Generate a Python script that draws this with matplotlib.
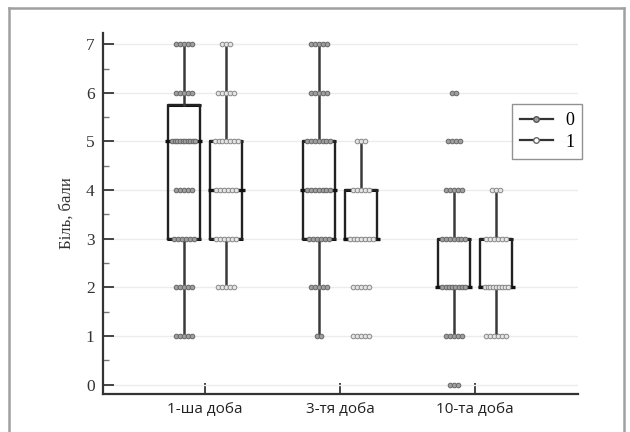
import matplotlib
matplotlib.use("Agg")
import matplotlib.pyplot as plt
from matplotlib.lines import Line2D
import numpy as np

# ---- data ----
categories = ["1-ша доба", "3-тя доба", "10-та доба"]
series = ["0", "1"]
# box stats: (whislo, q1, med, q3, whishi)
stats_s0 = [(1, 3, 5, 5.75, 7), (1, 3, 4, 5, 7), (1, 2, 2, 3, 4)]
stats_s1 = [(2, 3, 4, 5, 7), (3, 3, 3, 4, 5), (1, 2, 2, 3, 4)]
# observed score levels and number of dots at each level
levels = [0, 1, 2, 3, 4, 5, 6, 7]
counts_s0 = [
    [0, 5, 5, 6, 5, 10, 5, 5],
    [0, 2, 5, 6, 7, 7, 5, 5],
    [3, 5, 8, 7, 5, 4, 2, 0],
]
counts_s1 = [
    [0, 0, 5, 6, 6, 7, 5, 3],
    [0, 5, 5, 7, 5, 3, 0, 0],
    [0, 6, 9, 6, 3, 0, 0, 0],
]
yticks = [0, 1, 2, 3, 4, 5, 6, 7]
ylabel = "Біль, бали"

# ---- figure ----
fig = plt.figure(figsize=(6.3, 4.32), dpi=100)
ax = fig.add_axes([103/630, 1-394/432, (578-103)/630, (394-33)/432])

pos = np.arange(1, len(categories) + 1)
off = 0.157
width = 0.237
box_col = "#222222"

def make_stats(s):
    return dict(whislo=s[0], q1=s[1], med=s[2], q3=s[3], whishi=s[4], fliers=[])

for k, (stats, counts, fc, ec) in enumerate([
        (stats_s0, counts_s0, "#a0a0a0", "#666666"),
        (stats_s1, counts_s1, "#e6e6e6", "#888888")]):
    p = pos + (-off if k == 0 else off)
    ax.bxp([make_stats(s) for s in stats], positions=p, widths=width,
           showcaps=False, showfliers=False, patch_artist=False,
           boxprops=dict(color=box_col, linewidth=1.7),
           whiskerprops=dict(color="#3a3a3a", linewidth=1.8),
           medianprops=dict(color="#111111", linewidth=0),
           zorder=3)
    for i, s in enumerate(stats):
        ax.plot([p[i] - width*0.58, p[i] + width*0.58], [s[2], s[2]],
                color="#111111", lw=2.4, zorder=3, solid_capstyle="butt")
        for q in (s[1], s[3]):
            ax.plot([p[i] - width*0.53, p[i] + width*0.53], [q, q],
                    color="#111111", lw=2.2, zorder=2.9, solid_capstyle="butt")
        for lv, n in zip(levels, counts[i]):
            if n == 0:
                continue
            sp = min(0.03, 0.17 / max(n - 1, 1))
            xs = p[i] + (np.arange(n) - (n - 1) / 2) * sp
            ax.scatter(xs, [lv]*n, s=11, facecolor=fc, edgecolor=ec,
                       linewidth=0.7, zorder=4)

ax.set_xlim(0.244, 3.763)
ax.set_ylim(-0.19, 7.23)
ax.set_yticks(yticks)
ax.set_yticklabels([str(t) for t in yticks], family="Liberation Serif",
                   fontsize=12.5, color="#333333")
ax.set_yticks(np.arange(0.5, 7, 1), minor=True)
ax.set_xticks(pos)
ax.set_xticklabels(categories, family="Open Sans", fontsize=11, color="#222222")
ax.tick_params(axis="y", which="major", direction="in", length=8, width=1.4,
               color="#444444", pad=6)
ax.tick_params(axis="y", which="minor", direction="in", length=4, width=1,
               color="#777777")
ax.tick_params(axis="x", which="major", direction="in", length=8, width=1.4,
               color="#444444", pad=6)
ax.grid(axis="y", color="#ececec", lw=1, zorder=0)
ax.set_axisbelow(True)
for sp_ in ("top", "right"):
    ax.spines[sp_].set_visible(False)
for sp_ in ("left", "bottom"):
    ax.spines[sp_].set_color("#333333")
    ax.spines[sp_].set_linewidth(1.6)
ax.set_ylabel(ylabel, family="Liberation Serif", fontsize=12, color="#333333",
              labelpad=8)

handles = [
    Line2D([], [], color="#333333", lw=1.6, marker="o", markersize=4,
           markerfacecolor="#a0a0a0", markeredgecolor="#555555"),
    Line2D([], [], color="#333333", lw=1.6, marker="o", markersize=4,
           markerfacecolor="white", markeredgecolor="#666666"),
]
leg = ax.legend(handles, series, loc="upper left", bbox_to_anchor=(0.842, 0.828),
                prop=dict(family="Liberation Serif", size=13), frameon=True,
                fancybox=False, handlelength=1.8, borderpad=0.45,
                labelspacing=0.25, handletextpad=0.7)
leg.get_frame().set_edgecolor("#777777")
leg.get_frame().set_linewidth(1.0)

# outer grey frame
for xs_, ys_ in [([9/630, 9/630], [0, 1-8/432]),
                 ([9/630, 624/630], [1-8/432, 1-8/432]),
                 ([624/630, 624/630], [0, 1-8/432])]:
    fig.add_artist(Line2D(xs_, ys_, transform=fig.transFigure,
                          color="#a0a0a0", lw=1.8))

fig.savefig("out.png", dpi=100)
